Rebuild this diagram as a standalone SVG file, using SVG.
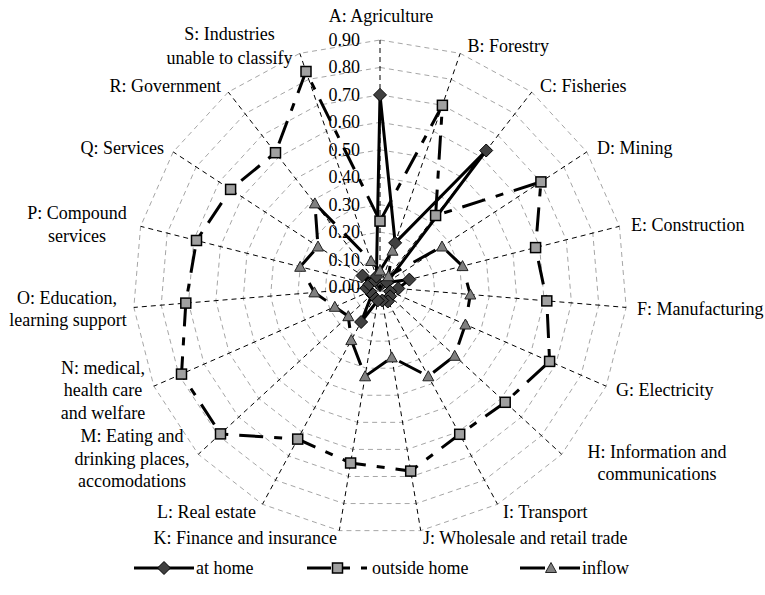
<svg xmlns="http://www.w3.org/2000/svg" xmlns:xlink="http://www.w3.org/1999/xlink" width="765" height="595" viewBox="0 0 765 595">
<style>
.ring{fill:none;stroke:#a6a6a6;stroke-width:1;stroke-dasharray:5,4}
.axis{stroke:#000;stroke-width:1;stroke-dasharray:5,4}
text{font-family:"Liberation Serif","Times New Roman",serif;font-size:18px;fill:#000}
.tick{text-anchor:end}
.mid{text-anchor:middle}
.end{text-anchor:end}
.s-home{fill:none;stroke:#000;stroke-width:3;stroke-linejoin:round}
.s-out{fill:none;stroke:#000;stroke-width:3;stroke-dasharray:24,11,8,11}
.s-in{fill:none;stroke:#000;stroke-width:3;stroke-dasharray:25,14}
</style>
<defs>
<path id="dm" d="M0,-6.5L6.5,0L0,6.5L-6.5,0Z" fill="#404040" stroke="#000" stroke-width="1"/>
<rect id="sq" x="-5" y="-5" width="10" height="10" fill="#a0a0a0" stroke="#000" stroke-width="1.5"/>
<path id="tr" d="M0,-5.5L5.5,4.5L-5.5,4.5Z" fill="#808080" stroke="#222" stroke-width="1"/>
</defs>
<rect width="765" height="595" fill="#fff"/>
<g id="grid" transform="translate(380,287)">
<polygon class="ring" points="0,-27.44 8.91,-25.96 16.86,-21.66 22.98,-15.01 26.6,-6.74 27.35,2.27 25.13,11.02 20.19,18.59 13.06,24.14 4.52,27.07 -4.52,27.07 -13.06,24.14 -20.19,18.59 -25.13,11.02 -27.35,2.27 -26.6,-6.74 -22.98,-15.01 -16.86,-21.66 -8.91,-25.96"/>
<polygon class="ring" points="0,-54.89 17.82,-51.92 33.72,-43.32 45.96,-30.02 53.2,-13.48 54.7,4.54 50.26,22.04 40.38,37.18 26.12,48.28 9.04,54.14 -9.04,54.14 -26.12,48.28 -40.38,37.18 -50.26,22.04 -54.7,4.54 -53.2,-13.48 -45.96,-30.02 -33.72,-43.32 -17.82,-51.92"/>
<polygon class="ring" points="0,-82.33 26.73,-77.88 50.58,-64.98 68.94,-45.03 79.8,-20.22 82.05,6.81 75.39,33.06 60.57,55.77 39.18,72.42 13.56,81.21 -13.56,81.21 -39.18,72.42 -60.57,55.77 -75.39,33.06 -82.05,6.81 -79.8,-20.22 -68.94,-45.03 -50.58,-64.98 -26.73,-77.88"/>
<polygon class="ring" points="0,-109.78 35.64,-103.84 67.44,-86.64 91.92,-60.04 106.4,-26.96 109.4,9.08 100.52,44.08 80.76,74.36 52.24,96.56 18.08,108.28 -18.08,108.28 -52.24,96.56 -80.76,74.36 -100.52,44.08 -109.4,9.08 -106.4,-26.96 -91.92,-60.04 -67.44,-86.64 -35.64,-103.84"/>
<polygon class="ring" points="0,-137.22 44.55,-129.8 84.3,-108.3 114.9,-75.05 133,-33.7 136.75,11.35 125.65,55.1 100.95,92.95 65.3,120.7 22.6,135.35 -22.6,135.35 -65.3,120.7 -100.95,92.95 -125.65,55.1 -136.75,11.35 -133,-33.7 -114.9,-75.05 -84.3,-108.3 -44.55,-129.8"/>
<polygon class="ring" points="0,-164.66 53.46,-155.76 101.16,-129.96 137.88,-90.06 159.6,-40.44 164.1,13.62 150.78,66.12 121.14,111.54 78.36,144.84 27.12,162.42 -27.12,162.42 -78.36,144.84 -121.14,111.54 -150.78,66.12 -164.1,13.62 -159.6,-40.44 -137.88,-90.06 -101.16,-129.96 -53.46,-155.76"/>
<polygon class="ring" points="0,-192.11 62.37,-181.72 118.02,-151.62 160.86,-105.07 186.2,-47.18 191.45,15.89 175.91,77.14 141.33,130.13 91.42,168.98 31.64,189.49 -31.64,189.49 -91.42,168.98 -141.33,130.13 -175.91,77.14 -191.45,15.89 -186.2,-47.18 -160.86,-105.07 -118.02,-151.62 -62.37,-181.72"/>
<polygon class="ring" points="0,-219.55 71.28,-207.68 134.88,-173.28 183.84,-120.08 212.8,-53.92 218.8,18.16 201.04,88.16 161.52,148.72 104.48,193.12 36.16,216.56 -36.16,216.56 -104.48,193.12 -161.52,148.72 -201.04,88.16 -218.8,18.16 -212.8,-53.92 -183.84,-120.08 -134.88,-173.28 -71.28,-207.68"/>
<polygon class="ring" points="0,-247 80.19,-233.64 151.74,-194.94 206.82,-135.09 239.4,-60.66 246.15,20.43 226.17,99.18 181.71,167.31 117.54,217.26 40.68,243.63 -40.68,243.63 -117.54,217.26 -181.71,167.31 -226.17,99.18 -246.15,20.43 -239.4,-60.66 -206.82,-135.09 -151.74,-194.94 -80.19,-233.64"/>
</g>
<g id="axes" transform="translate(380,287)">
<line class="axis" x1="0" y1="0" x2="0" y2="-247"/>
<line class="axis" x1="0" y1="0" x2="80.19" y2="-233.64"/>
<line class="axis" x1="0" y1="0" x2="151.74" y2="-194.94"/>
<line class="axis" x1="0" y1="0" x2="206.82" y2="-135.09"/>
<line class="axis" x1="0" y1="0" x2="239.4" y2="-60.66"/>
<line class="axis" x1="0" y1="0" x2="246.15" y2="20.43"/>
<line class="axis" x1="0" y1="0" x2="226.17" y2="99.18"/>
<line class="axis" x1="0" y1="0" x2="181.71" y2="167.31"/>
<line class="axis" x1="0" y1="0" x2="117.54" y2="217.26"/>
<line class="axis" x1="0" y1="0" x2="40.68" y2="243.63"/>
<line class="axis" x1="0" y1="0" x2="-40.68" y2="243.63"/>
<line class="axis" x1="0" y1="0" x2="-117.54" y2="217.26"/>
<line class="axis" x1="0" y1="0" x2="-181.71" y2="167.31"/>
<line class="axis" x1="0" y1="0" x2="-226.17" y2="99.18"/>
<line class="axis" x1="0" y1="0" x2="-246.15" y2="20.43"/>
<line class="axis" x1="0" y1="0" x2="-239.4" y2="-60.66"/>
<line class="axis" x1="0" y1="0" x2="-206.82" y2="-135.09"/>
<line class="axis" x1="0" y1="0" x2="-151.74" y2="-194.94"/>
<line class="axis" x1="0" y1="0" x2="-80.19" y2="-233.64"/>
</g>
<g id="connectors">
<polygon class="s-home" points="380,94.9 395.15,242.87 486.2,150.5 386.9,282.5 409.3,279.6 398.3,288.5 390.1,291.4 390.1,296.3 387.8,301.5 382.3,300.5 377.7,300.5 361.1,322 371.9,294.4 370,291.4 366.3,288.1 369.4,284.3 362.5,275.6 374.9,280.5 376.4,276.6"/>
<polygon class="s-out" points="380,221.1 442.4,105.3 435.6,215.5 540.9,181.9 535.6,247.6 546.8,300.9 549.6,361.4 505.2,402.3 459.7,434.3 410.7,471.1 350.6,463 297.7,439.1 220.5,433.9 181.5,374.1 185.8,303.1 196.5,240.5 230.6,189.4 275.5,152.7 306,71.5"/>
<polygon class="s-in" points="380,270.5 392.5,250.7 388.4,276.2 442,246.5 462.5,266.1 470.3,294.5 465.4,324.5 454.7,355.8 428.3,376.3 391.8,357.4 365.1,376.3 351.3,340.1 348.3,316.2 334.8,306.8 314.4,292.4 300.2,266.8 318,246.5 314.9,203.4 371.1,261"/>
</g>
<g id="markers-at-home">
<use href="#dm" x="380" y="94.9"/><use href="#dm" x="395.15" y="242.87"/><use href="#dm" x="486.2" y="150.5"/><use href="#dm" x="386.9" y="282.5"/><use href="#dm" x="409.3" y="279.6"/><use href="#dm" x="398.3" y="288.5"/><use href="#dm" x="390.1" y="291.4"/><use href="#dm" x="390.1" y="296.3"/><use href="#dm" x="387.8" y="301.5"/><use href="#dm" x="382.3" y="300.5"/><use href="#dm" x="377.7" y="300.5"/><use href="#dm" x="361.1" y="322"/><use href="#dm" x="371.9" y="294.4"/><use href="#dm" x="370" y="291.4"/><use href="#dm" x="366.3" y="288.1"/><use href="#dm" x="369.4" y="284.3"/><use href="#dm" x="362.5" y="275.6"/><use href="#dm" x="374.9" y="280.5"/><use href="#dm" x="376.4" y="276.6"/>
</g>
<g id="markers-outside-home">
<use href="#sq" x="380" y="221.1"/><use href="#sq" x="442.4" y="105.3"/><use href="#sq" x="435.6" y="215.5"/><use href="#sq" x="540.9" y="181.9"/><use href="#sq" x="535.6" y="247.6"/><use href="#sq" x="546.8" y="300.9"/><use href="#sq" x="549.6" y="361.4"/><use href="#sq" x="505.2" y="402.3"/><use href="#sq" x="459.7" y="434.3"/><use href="#sq" x="410.7" y="471.1"/><use href="#sq" x="350.6" y="463"/><use href="#sq" x="297.7" y="439.1"/><use href="#sq" x="220.5" y="433.9"/><use href="#sq" x="181.5" y="374.1"/><use href="#sq" x="185.8" y="303.1"/><use href="#sq" x="196.5" y="240.5"/><use href="#sq" x="230.6" y="189.4"/><use href="#sq" x="275.5" y="152.7"/><use href="#sq" x="306" y="71.5"/>
</g>
<g id="markers-inflow">
<use href="#tr" x="380" y="270.5"/><use href="#tr" x="392.5" y="250.7"/><use href="#tr" x="388.4" y="276.2"/><use href="#tr" x="442" y="246.5"/><use href="#tr" x="462.5" y="266.1"/><use href="#tr" x="470.3" y="294.5"/><use href="#tr" x="465.4" y="324.5"/><use href="#tr" x="454.7" y="355.8"/><use href="#tr" x="428.3" y="376.3"/><use href="#tr" x="391.8" y="357.4"/><use href="#tr" x="365.1" y="376.3"/><use href="#tr" x="351.3" y="340.1"/><use href="#tr" x="348.3" y="316.2"/><use href="#tr" x="334.8" y="306.8"/><use href="#tr" x="314.4" y="292.4"/><use href="#tr" x="300.2" y="266.8"/><use href="#tr" x="318" y="246.5"/><use href="#tr" x="314.9" y="203.4"/><use href="#tr" x="371.1" y="261"/>
</g>
<g id="tick-labels">
<text class="tick" x="360" y="293">0.00</text>
<text class="tick" x="360" y="265.6">0.10</text>
<text class="tick" x="360" y="238.1">0.20</text>
<text class="tick" x="360" y="210.7">0.30</text>
<text class="tick" x="360" y="183.2">0.40</text>
<text class="tick" x="360" y="155.8">0.50</text>
<text class="tick" x="360" y="128.3">0.60</text>
<text class="tick" x="360" y="100.9">0.70</text>
<text class="tick" x="360" y="73.4">0.80</text>
<text class="tick" x="360" y="46">0.90</text>
</g>
<g id="cat-A"><text class="mid" x="381" y="22">A: Agriculture</text></g>
<g id="cat-B"><text x="467.5" y="52">B: Forestry</text></g>
<g id="cat-C"><text x="540" y="92">C: Fisheries</text></g>
<g id="cat-D"><text x="597" y="153.5">D: Mining</text></g>
<g id="cat-E"><text x="631" y="231">E: Construction</text></g>
<g id="cat-F"><text x="637" y="315">F: Manufacturing</text></g>
<g id="cat-G"><text x="616" y="396">G: Electricity</text></g>
<g id="cat-H"><text class="mid" x="657" y="458">H: Information and</text><text class="mid" x="657" y="479.5">communications</text></g>
<g id="cat-I"><text x="503" y="518">I: Transport</text></g>
<g id="cat-J"><text x="423" y="544">J: Wholesale and retail trade</text></g>
<g id="cat-K"><text class="end" x="337" y="544">K: Finance and insurance</text></g>
<g id="cat-L"><text x="157" y="518">L: Real estate</text></g>
<g id="cat-M"><text class="mid" x="132" y="442">M: Eating and</text><text class="mid" x="132" y="464.5">drinking places,</text><text class="mid" x="132" y="487">accomodations</text></g>
<g id="cat-N"><text class="mid" x="103" y="373.5">N: medical,</text><text class="mid" x="103" y="396">health care</text><text class="mid" x="103" y="419">and welfare</text></g>
<g id="cat-O"><text class="mid" x="67" y="304">O: Education,</text><text class="mid" x="68" y="326">learning support</text></g>
<g id="cat-P"><text class="mid" x="77" y="219">P: Compound</text><text class="mid" x="77" y="242">services</text></g>
<g id="cat-Q"><text class="end" x="164" y="154">Q: Services</text></g>
<g id="cat-R"><text class="end" x="221" y="91.5">R: Government</text></g>
<g id="cat-S"><text class="mid" x="229.5" y="40">S: Industries</text><text class="mid" x="229.5" y="63.5">unable to classify</text></g>
<g id="legend">
<line x1="134" y1="568" x2="194" y2="568" stroke="#000" stroke-width="3"/>
<use href="#dm" x="164" y="568"/>
<text x="196" y="574">at home</text>
<line x1="307" y1="568" x2="367" y2="568" class="s-out"/>
<use href="#sq" x="337.5" y="568"/>
<text x="372" y="574">outside home</text>
<line x1="520" y1="568" x2="580" y2="568" class="s-in"/>
<use href="#tr" x="551" y="568"/>
<text x="582" y="574">inflow</text>
</g>
</svg>
